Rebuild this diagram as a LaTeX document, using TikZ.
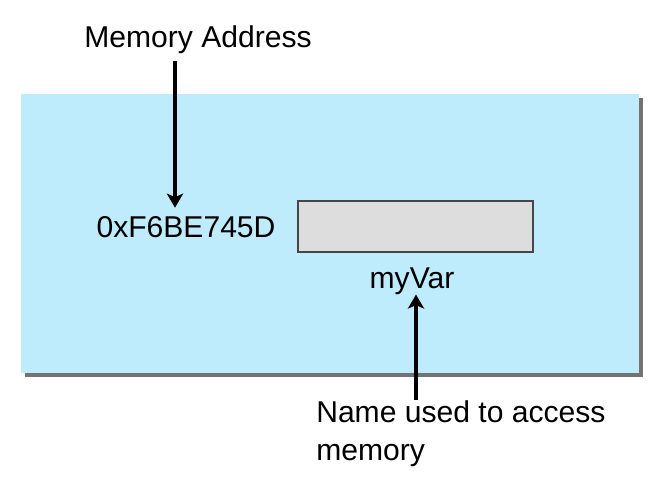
\documentclass[tikz,border=0pt]{standalone}
\usepackage{fontspec}
\setmainfont{Liberation Sans}
\usepackage{tikz}
\usetikzlibrary{positioning, arrows.meta, shadows, calc}
\definecolor{memblue}{RGB}{190,236,252}
\definecolor{cellgray}{RGB}{221,221,221}
\definecolor{celledge}{RGB}{70,70,70}

\begin{document}
\begin{tikzpicture}[
  memlabel/.style={inner sep=0pt, font=\fontsize{21.4}{27}\selectfont},
  cellbox/.style={draw=celledge, fill=cellgray, line width=0.8pt,
                  minimum width=5.875cm, minimum height=1.275cm, inner sep=0pt},
  pointer/.style={-{Stealth[length=10pt, width=11.5pt, inset=2.5pt]}, line width=2.4pt, black}
]
  \useasboundingbox (0,0) rectangle (16.725,11.95);

  %% Memory region with its shadow
  \fill[memblue, drop shadow={shadow xshift=0.09cm, shadow yshift=-0.09cm,
        fill=black, opacity=0.55}] (0.525,2.625) rectangle (15.975,9.6);

  %% Cell and labels
  \node[cellbox] (cell) at (10.3875,6.2875) {};
  \node[memlabel, anchor=base] (addr) at (4.95,10.75) {Memory Address};
  \node[memlabel, anchor=base] (hex)  at (4.65,6.0)   {0xF6BE745D};
  \node[memlabel, anchor=base] (var)  at (10.3,4.75)  {myVar};
  \node[memlabel, anchor=north west, align=left] (name) at (7.9,1.95)
        {Name used to access\\memory};

  %% Pointers
  \path ([xshift=-0.275cm, yshift=0.225cm]hex.north) coordinate (htip);
  \draw[pointer, shorten <=0.15cm] (htip |- addr.south) -- (htip);

  \path ([xshift=0.1cm]var.south) coordinate (vtip);
  \draw[pointer] (vtip |- name.north) -- (vtip);
\end{tikzpicture}
\end{document}
